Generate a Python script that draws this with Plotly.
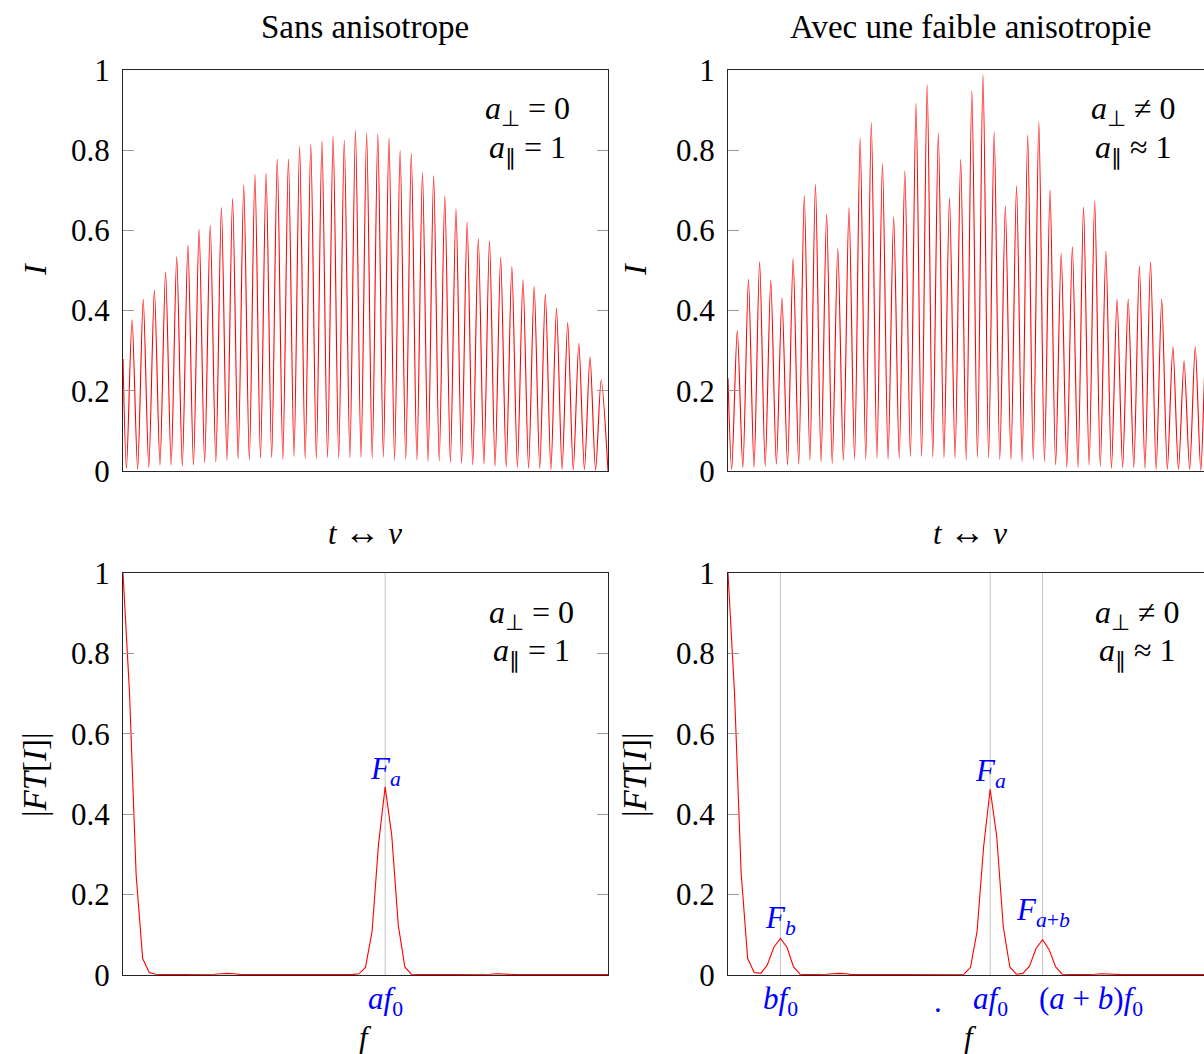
import plotly.graph_objects as go

FONT = "Liberation Serif"
RED = "#ff0000"
BLUE = "#0000ff"

# ---------------- data: time signals (peak / trough heights) -------------
left_start = 0.279
left_troughs = [0.007, 0.004, 0.009, 0.015, 0.015, 0.012, 0.015, 0.021, 0.023, 0.027,
                0.030, 0.027, 0.032, 0.033, 0.029, 0.036, 0.030, 0.030, 0.033, 0.032,
                0.033, 0.033, 0.032, 0.034, 0.027, 0.029, 0.027, 0.023, 0.025, 0.021,
                0.019, 0.015, 0.017, 0.012, 0.010, 0.009, 0.007, 0.007, 0.004, 0.004,
                0.003, 0.003, 0.002]
left_peaks = [0.377, 0.428, 0.451, 0.497, 0.534, 0.564, 0.603, 0.613, 0.657, 0.680,
              0.713, 0.740, 0.743, 0.778, 0.778, 0.809, 0.815, 0.823, 0.835, 0.825,
              0.849, 0.843, 0.840, 0.830, 0.800, 0.792, 0.744, 0.736, 0.686, 0.654,
              0.620, 0.579, 0.574, 0.533, 0.510, 0.477, 0.460, 0.441, 0.406, 0.370,
              0.318, 0.285, 0.227]
left_end = 0.0

right_start = 0.231
right_troughs = [0.004, 0.009, 0.009, 0.012, 0.017, 0.015, 0.017, 0.027, 0.023, 0.019,
                 0.027, 0.029, 0.029, 0.032, 0.029, 0.032, 0.036, 0.036, 0.034, 0.032,
                 0.032, 0.027, 0.034, 0.032, 0.029, 0.029, 0.023, 0.027, 0.023, 0.015,
                 0.009, 0.009, 0.015, 0.012, 0.007, 0.009, 0.009, 0.007, 0.004, 0.004,
                 0.003, 0.003, 0.002]
right_peaks = [0.350, 0.478, 0.522, 0.476, 0.431, 0.530, 0.687, 0.715, 0.641, 0.555,
               0.657, 0.830, 0.869, 0.767, 0.634, 0.748, 0.917, 0.964, 0.842, 0.682,
               0.777, 0.948, 0.988, 0.845, 0.661, 0.711, 0.838, 0.870, 0.701, 0.543,
               0.559, 0.658, 0.674, 0.548, 0.428, 0.428, 0.511, 0.522, 0.428, 0.310,
               0.275, 0.310, 0.330]
right_end = 0.0

PHASE_LEFT = 0.81      # position of first peak, in periods
PHASE_RIGHT = 0.83
T_END = 43.42          # length of the time window, in periods
RIGHT_VISIBLE = 476 / 485   # right column is cut by the page edge

# ---------------- data: spectra |FT[I]| (one value per frequency bin) ----------------------
fft_left = [1.0, 0.70, 0.25, 0.041, 0.006, 0.002, 0.001, 0.001, 0.001, 0.001,
            0.001, 0.001, 0.001, 0.001, 0.002, 0.003, 0.004, 0.003, 0.001, 0.001,
            0.001, 0.002, 0.002, 0.001, 0.001, 0.001, 0.001, 0.001, 0.001, 0.001,
            0.001, 0.001, 0.001, 0.001, 0.002, 0.001, 0.003, 0.019, 0.108, 0.328,
            0.468, 0.348, 0.124, 0.020, 0.002, 0.001, 0.001, 0.001, 0.001, 0.001,
            0.001, 0.001, 0.001, 0.001, 0.001, 0.001, 0.002, 0.003, 0.002, 0.001,
            0.001, 0.001, 0.001, 0.001, 0.001, 0.001, 0.001, 0.001, 0.001, 0.001,
            0.001, 0.001, 0.001, 0.001, 0.001]
fft_right = [1.0, 0.70, 0.255, 0.041, 0.006, 0.004, 0.025, 0.069, 0.091, 0.069,
             0.020, 0.002, 0.001, 0.001, 0.001, 0.002, 0.003, 0.004, 0.003, 0.001,
             0.001, 0.001, 0.002, 0.002, 0.001, 0.001, 0.001, 0.001, 0.001, 0.001,
             0.001, 0.001, 0.001, 0.001, 0.001, 0.001, 0.002, 0.019, 0.108, 0.319,
             0.462, 0.345, 0.120, 0.020, 0.002, 0.004, 0.022, 0.066, 0.088, 0.063,
             0.020, 0.002, 0.001, 0.001, 0.001, 0.001, 0.002, 0.003, 0.002, 0.001,
             0.001, 0.001, 0.001, 0.001, 0.001, 0.001, 0.001, 0.001, 0.001, 0.001,
             0.001, 0.001, 0.001, 0.001, 0.001]

left_marks = [40]
right_marks = [8, 40, 48]
left_tick_vals = [40]
left_tick_labels = ["<i>af</i><sub>0</sub>"]
right_tick_vals = [8, 32, 40, 48]
right_tick_labels = ["<i>bf</i><sub>0</sub>", ".", "<i>af</i><sub>0</sub>",
                     "(<i>a</i> + <i>b</i>)<i>f</i><sub>0</sub>"]
right_tick_shift = [0, 0, 0, 48]
peak_names_left = [(40, "<i>F</i><sub><i>a</i></sub>", -6)]
peak_names_right = [(8, "<i>F</i><sub><i>b</i></sub>", -4), (40, "<i>F</i><sub><i>a</i></sub>", -6),
                    (48, "<i>F</i><sub><i>a</i>+<i>b</i></sub>", 6)]

y_ticks = [0, 0.2, 0.4, 0.6, 0.8, 1]
y_tick_text = ["0", "0.2", "0.4", "0.6", "0.8", "1"]

titles = ["Sans anisotrope", "Avec une faible anisotropie"]
params_left = ["<i>a</i><sub>⊥</sub> = 0", "<i>a</i><sub>∥</sub> = 1"]
params_right = ["<i>a</i><sub>⊥</sub> ≠ 0", "<i>a</i><sub>∥</sub> ≈ 1"]


def build_signal(start, troughs, peaks, end, phase):
    t, y = [0.0], [start]
    for k in range(len(peaks)):
        t.append(phase + k - 0.5)
        y.append(troughs[k])
        t.append(phase + k)
        y.append(peaks[k])
    t.append(T_END)
    y.append(end)
    return t, y


W, H = 1204, 1054
fig = go.Figure()

tl_t, tl_y = build_signal(left_start, left_troughs, left_peaks, left_end, PHASE_LEFT)
tr_t, tr_y = build_signal(right_start, right_troughs, right_peaks, right_end, PHASE_RIGHT)
line = dict(color=RED, width=1.1, shape="spline", smoothing=0.8)
fig.add_trace(go.Scatter(x=tl_t, y=tl_y, mode="lines", line=line, xaxis="x", yaxis="y"))
fig.add_trace(go.Scatter(x=tr_t, y=tr_y, mode="lines", line=line, xaxis="x2", yaxis="y2"))
fline = dict(color=RED, width=1.1)
fig.add_trace(go.Scatter(x=list(range(len(fft_left))), y=fft_left, mode="lines", line=fline,
                         xaxis="x3", yaxis="y3"))
fig.add_trace(go.Scatter(x=list(range(len(fft_right))), y=fft_right, mode="lines", line=fline,
                         xaxis="x4", yaxis="y4"))

LX = [123 / W, 608 / W]
RX = [728 / W, 1.0]
TY = [(H - 471) / H, (H - 70) / H]
BY = [(H - 975) / H, (H - 573) / H]

FRAME = "#262626"
TICKC = "#9a9a9a"
tickfont = dict(family=FONT, size=31, color="black")


def yax(domain, anchor, mirror):
    return dict(domain=domain, anchor=anchor, range=[0, 1], tickvals=y_ticks, ticktext=y_tick_text,
                ticks="inside", ticklen=11, tickcolor=TICKC, tickwidth=1, ticklabelstandoff=6,
                showline=True, linecolor=FRAME, linewidth=1,
                mirror="ticks" if mirror else False, automargin=False, tickangle=0,
                showgrid=False, zeroline=False, tickfont=tickfont, fixedrange=True)


def xax(domain, anchor, rng):
    return dict(domain=domain, anchor=anchor, range=rng, showline=True, linecolor=FRAME,
                linewidth=1, mirror=True, showgrid=False, zeroline=False, ticks="",
                showticklabels=False, automargin=False, fixedrange=True)


n_fft = len(fft_left) - 1
fig.update_layout(
    width=W, height=H, margin=dict(l=0, r=0, t=0, b=0, autoexpand=False),
    paper_bgcolor="white", plot_bgcolor="white", showlegend=False,
    xaxis=xax(LX, "y", [0, T_END]),
    yaxis=yax(TY, "x", True),
    xaxis2=xax(RX, "y2", [0, T_END * RIGHT_VISIBLE]),
    yaxis2=yax(TY, "x2", False),
    xaxis3=xax(LX, "y3", [0, n_fft]),
    yaxis3=yax(BY, "x3", True),
    xaxis4=xax(RX, "y4", [0, n_fft * RIGHT_VISIBLE]),
    yaxis4=yax(BY, "x4", False),
)

# vertical reference lines at the characteristic frequencies
for xv in left_marks:
    fig.add_shape(type="line", xref="x3", yref="y3 domain", x0=xv, x1=xv, y0=0, y1=1,
                  line=dict(color="#c4c4c4", width=1), layer="below")
for xv in right_marks:
    fig.add_shape(type="line", xref="x4", yref="y4 domain", x0=xv, x1=xv, y0=0, y1=1,
                  line=dict(color="#c4c4c4", width=1), layer="below")

# frequency tick labels (blue)
blue_font = dict(family=FONT, size=31, color=BLUE)
for xv, lab in zip(left_tick_vals, left_tick_labels):
    fig.add_annotation(x=xv, y=(H - 1001) / H, xref="x3", yref="paper", text=lab,
                       showarrow=False, xanchor="center", yanchor="middle", font=blue_font)
for xv, lab, sh in zip(right_tick_vals, right_tick_labels, right_tick_shift):
    fig.add_annotation(x=xv, y=(H - 1001) / H, xref="x4", yref="paper", text=lab, xshift=sh,
                       showarrow=False, xanchor="center", yanchor="middle", font=blue_font)

# peak names
for xv, name, sh in peak_names_left:
    fig.add_annotation(x=xv, y=fft_left[xv], xref="x3", yref="y3", text=name, showarrow=False,
                       yanchor="bottom", yshift=sh, font=dict(family=FONT, size=31, color=BLUE))
for xv, name, sh in peak_names_right:
    fig.add_annotation(x=xv, y=fft_right[xv], xref="x4", yref="y4", text=name, showarrow=False,
                       yanchor="bottom", yshift=sh, font=dict(family=FONT, size=31, color=BLUE))


def ann(px, py, text, angle=0, size=31):
    fig.add_annotation(x=px / W, y=(H - py) / H, xref="paper", yref="paper", text=text,
                       showarrow=False, xanchor="center", yanchor="middle", textangle=angle,
                       font=dict(family=FONT, size=size, color="black"))


arrow_label = "<i>t</i> <span style='font-size:36px'>↔</span> <i>ν</i>"
ann(365, 27, titles[0], size=33)
ann(970, 27, titles[1], size=33)
ann(365, 532, arrow_label)
ann(970, 532, arrow_label)
ann(365, 1037, "<i>f</i>")
ann(970, 1037, "<i>f</i>")
ann(35, 270, "<i>I</i>", -90, 32)
ann(635, 270, "<i>I</i>", -90, 32)
ann(35, 775, "|<i>FT</i>[<i>I</i>]|", -90, 33)
ann(635, 775, "|<i>FT</i>[<i>I</i>]|", -90, 33)

ann(527, 110, params_left[0], size=32)
ann(527, 149, params_left[1], size=32)
ann(1133, 110, params_right[0], size=32)
ann(1133, 149, params_right[1], size=32)
ann(531, 614, params_left[0], size=32)
ann(531, 652, params_left[1], size=32)
ann(1137, 614, params_right[0], size=32)
ann(1137, 652, params_right[1], size=32)

fig.write_html("out.html", config={"displayModeBar": False},
               post_script="document.body.style.margin='0';document.body.style.overflow='hidden';")
